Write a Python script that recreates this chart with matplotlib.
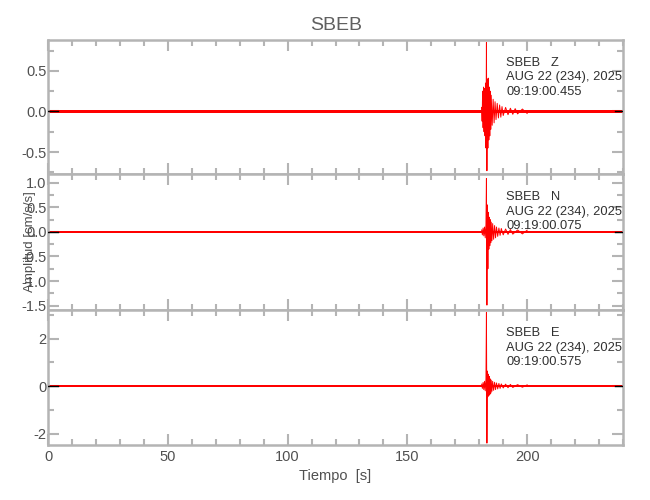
import matplotlib
matplotlib.use('Agg')
import matplotlib.pyplot as plt
import numpy as np

plt.rcParams['font.family'] = ['Liberation Sans', 'DejaVu Sans']
plt.rcParams['axes.unicode_minus'] = True

station = 'SBEB'
components = ['Z', 'N', 'E']
date_str = 'AUG 22 (234), 2025'
start_times = ['09:19:00.455', '09:19:00.075', '09:19:00.575']

# y limits of each panel
ylims = [(-0.77, 0.88), (-1.59, 1.18), (-2.48, 3.2)]
ymajor = [0.5, 0.5, 2.0]
yminor = [0.25, 0.25, 1.0]

# background noise half width per trace
noise = [0.02, 0.025, 0.035]

# event peaks (time in s, amplitude in cm/s/s)
t_z = [181.0, 181.2, 181.4, 181.6, 181.8, 182.0, 182.2, 182.4, 182.6, 182.8,
       183.0, 183.2, 183.4, 183.6, 183.8, 184.0, 184.2, 184.4, 184.6, 184.8,
       185.0, 185.4, 185.8, 186.2, 186.6, 187.0, 187.5, 188.0, 188.5, 189.0,
       189.5, 190.0, 191.0, 192.0, 193.0, 194.0, 195.0, 196.0, 198.0, 200.0]
v_z = [0.05, -0.12, 0.25, -0.2, 0.3, -0.25, 0.28, -0.3, 0.35, -0.45,
       0.85, -0.73, 0.4, -0.45, 0.41, -0.35, 0.3, -0.3, 0.25, -0.22,
       0.2, -0.17, 0.15, -0.14, 0.12, -0.1, 0.1, -0.08, 0.08, -0.07,
       0.06, -0.05, 0.05, -0.04, 0.04, -0.035, 0.035, -0.03, 0.03, -0.025]

t_n = [181.0, 181.3, 181.6, 181.9, 182.2, 182.5, 182.8, 183.0, 183.2, 183.4,
       183.6, 183.8, 184.0, 184.2, 184.4, 184.6, 184.8, 185.0, 185.3, 185.6,
       186.0, 186.4, 186.8, 187.2, 187.7, 188.2, 188.7, 189.2, 190.0, 191.0,
       192.0, 193.0, 194.0, 196.0, 198.0, 200.0]
v_n = [0.04, -0.06, 0.08, -0.08, 0.1, -0.12, 0.15, 1.09, -1.49, 0.55,
       -0.75, 0.4, -0.35, 0.3, -0.28, 0.25, -0.22, 0.2, -0.18, 0.17,
       -0.15, 0.13, -0.12, 0.1, -0.09, 0.08, -0.07, 0.07, -0.06, 0.06,
       -0.05, 0.05, -0.045, 0.04, -0.04, 0.035]

t_e = [181.0, 181.3, 181.6, 181.9, 182.2, 182.5, 182.8, 183.0, 183.2, 183.4,
       183.6, 183.8, 184.0, 184.2, 184.4, 184.6, 184.8, 185.0, 185.3, 185.6,
       186.0, 186.4, 186.8, 187.2, 187.7, 188.2, 188.7, 189.2, 190.0, 191.0,
       192.0, 193.0, 194.0, 196.0, 198.0, 200.0]
v_e = [0.08, -0.1, 0.15, -0.15, 0.2, -0.2, 0.3, 3.1, -2.4, 0.63,
       -0.45, 0.5, -0.4, 0.4, -0.35, 0.3, -0.3, 0.25, -0.22, 0.2,
       -0.18, 0.16, -0.15, 0.13, -0.12, 0.11, -0.1, 0.09, -0.08, 0.08,
       -0.07, 0.07, -0.06, 0.06, -0.05, 0.05]

traces = [(t_z, v_z), (t_n, v_n), (t_e, v_e)]

# black zero-line stubs at both ends of every trace
black_stubs = [(0.0, 4.0), (236.5, 240.0)]

xlim = (0, 240)
xticks = [0, 50, 100, 150, 200]

grey = '#b4b4b4'
txt = '#505050'

fig = plt.figure(figsize=(6.5, 5), dpi=100)
# panel boxes in pixels (top, bottom)
boxes = [(40, 174), (174, 310), (310, 445)]
left, right = 48, 623

for i in range(3):
    top, bot = boxes[i]
    ax = fig.add_axes([left / 650, 1 - bot / 500, (right - left) / 650, (bot - top) / 500])
    t, v = traces[i]
    ax.fill_between(xlim, -noise[i], noise[i], color='red', lw=0, zorder=2)
    ax.plot(t, v, color='red', lw=0.7, zorder=3)
    for a, b in black_stubs:
        ax.plot([a, b], [0, 0], color='black', lw=1.0, zorder=4)
    ax.set_xlim(xlim)
    ax.set_ylim(ylims[i])
    ax.set_xticks(xticks)
    ax.xaxis.set_minor_locator(matplotlib.ticker.MultipleLocator(10))
    ax.yaxis.set_major_locator(matplotlib.ticker.MultipleLocator(ymajor[i]))
    ax.yaxis.set_minor_locator(matplotlib.ticker.MultipleLocator(yminor[i]))
    if i < 2:
        ax.yaxis.set_major_formatter(matplotlib.ticker.FormatStrFormatter('%.1f'))
    else:
        ax.yaxis.set_major_formatter(matplotlib.ticker.FormatStrFormatter('%d'))
    ax.tick_params(which='both', direction='in', top=True, right=True,
                   color=grey, width=1.5, labelcolor=txt, labelsize=10.5)
    ax.tick_params(which='major', length=8)
    ax.tick_params(which='minor', length=4)
    ax.tick_params(axis='y', pad=1)
    if i < 2:
        ax.tick_params(axis='x', labelbottom=False)
    for s in ax.spines.values():
        s.set_color(grey)
        s.set_linewidth(1.8)
    ax.text(191.2, 0.875, station + '   ' + components[i] + '\n' + date_str + '\n' + start_times[i],
            transform=ax.get_xaxis_transform(), va='top', ha='left', fontsize=9.3,
            color='#303030', linespacing=1.3, zorder=5)
    if i == 2:
        ax.set_xlabel('Tiempo  [s]', color=txt, fontsize=10.5, labelpad=4)

fig.text(336 / 650, 1 - 25 / 500, station, ha='center', va='center', fontsize=14, color='#606060')
fig.text(30 / 650, 1 - 242 / 500, 'Amplitud [cm/s/s]', rotation=90, ha='center', va='center',
         fontsize=9.5, color=txt)

plt.savefig('out.png', dpi=100)
